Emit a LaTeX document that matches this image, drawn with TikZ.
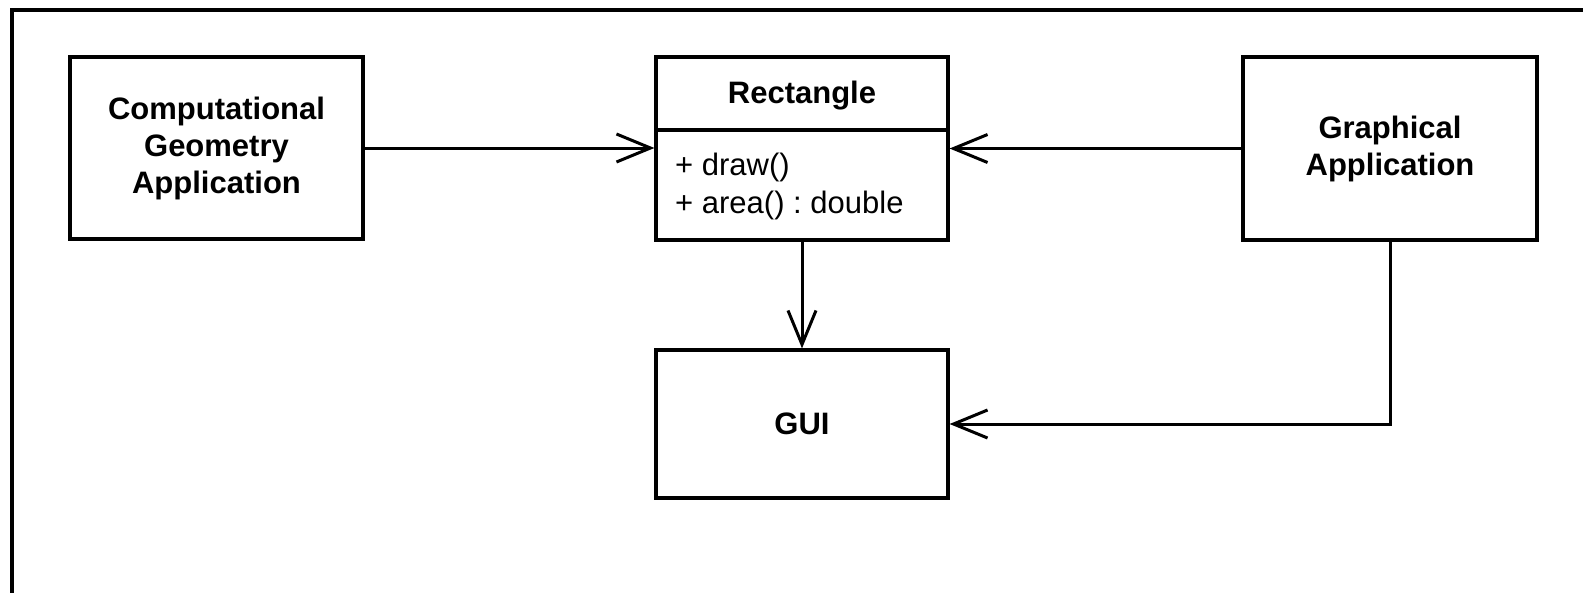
\documentclass[tikz,border=0pt]{standalone}
\usepackage{fontspec}
\setmainfont{Liberation Sans}
\usetikzlibrary{arrows.meta}
\frenchspacing
\begin{document}
\begin{tikzpicture}[x=1pt,y=1pt,
  box/.style={draw, line width=3.2pt, inner sep=0pt, align=center,
    font=\fontsize{31}{37}\selectfont\bfseries},
  lbl/.style={inner sep=0pt, font=\fontsize{31}{37}\selectfont},
  conn/.style={line width=3pt, -{Straight Barb[length=34pt,width=28pt,line width=3pt]}},
  plain/.style={line width=3.2pt}]
\useasboundingbox (0,0) rectangle (1583,-592);
\coordinate (fbl) at (12,-600);
\coordinate (ftl) at (12,-10);
\coordinate (ftr) at (1600,-10);
\draw[plain] (fbl) -- (ftl) -- (ftr);

\node[box, minimum width=293pt, minimum height=182pt] (cg) at (216.5,-148) {Computational\\Geometry\\Application};
\node[box, minimum width=292pt, minimum height=183pt] (rect) at (802,-148.5) {};
\node[lbl, font=\fontsize{31}{37}\selectfont\bfseries, anchor=base] (title) at (802,-103) {Rectangle};
\coordinate (divl) at (656,-130);
\coordinate (divr) at (948,-130);
\draw[plain] (divl) -- (divr);
\node[lbl, anchor=base west] (m1) at (675,-175) {+ draw()};
\node[lbl, anchor=base west] (m2) at (675,-213) {+ area() : double};
\node[box, minimum width=294pt, minimum height=183pt] (ga) at (1390,-148.5) {Graphical\\Application};
\node[box, minimum width=292pt, minimum height=148pt] (gui) at (802,-424) {GUI};

\draw[conn] (cg.east) -- (cg.east -| rect.west);
\draw[conn] (ga.west) -- (ga.west -| rect.east);
\draw[conn] (rect.south) -- (gui.north);
\draw[conn] (ga.south) -- (ga.south |- gui.east) -- (gui.east);
\end{tikzpicture}
\end{document}
